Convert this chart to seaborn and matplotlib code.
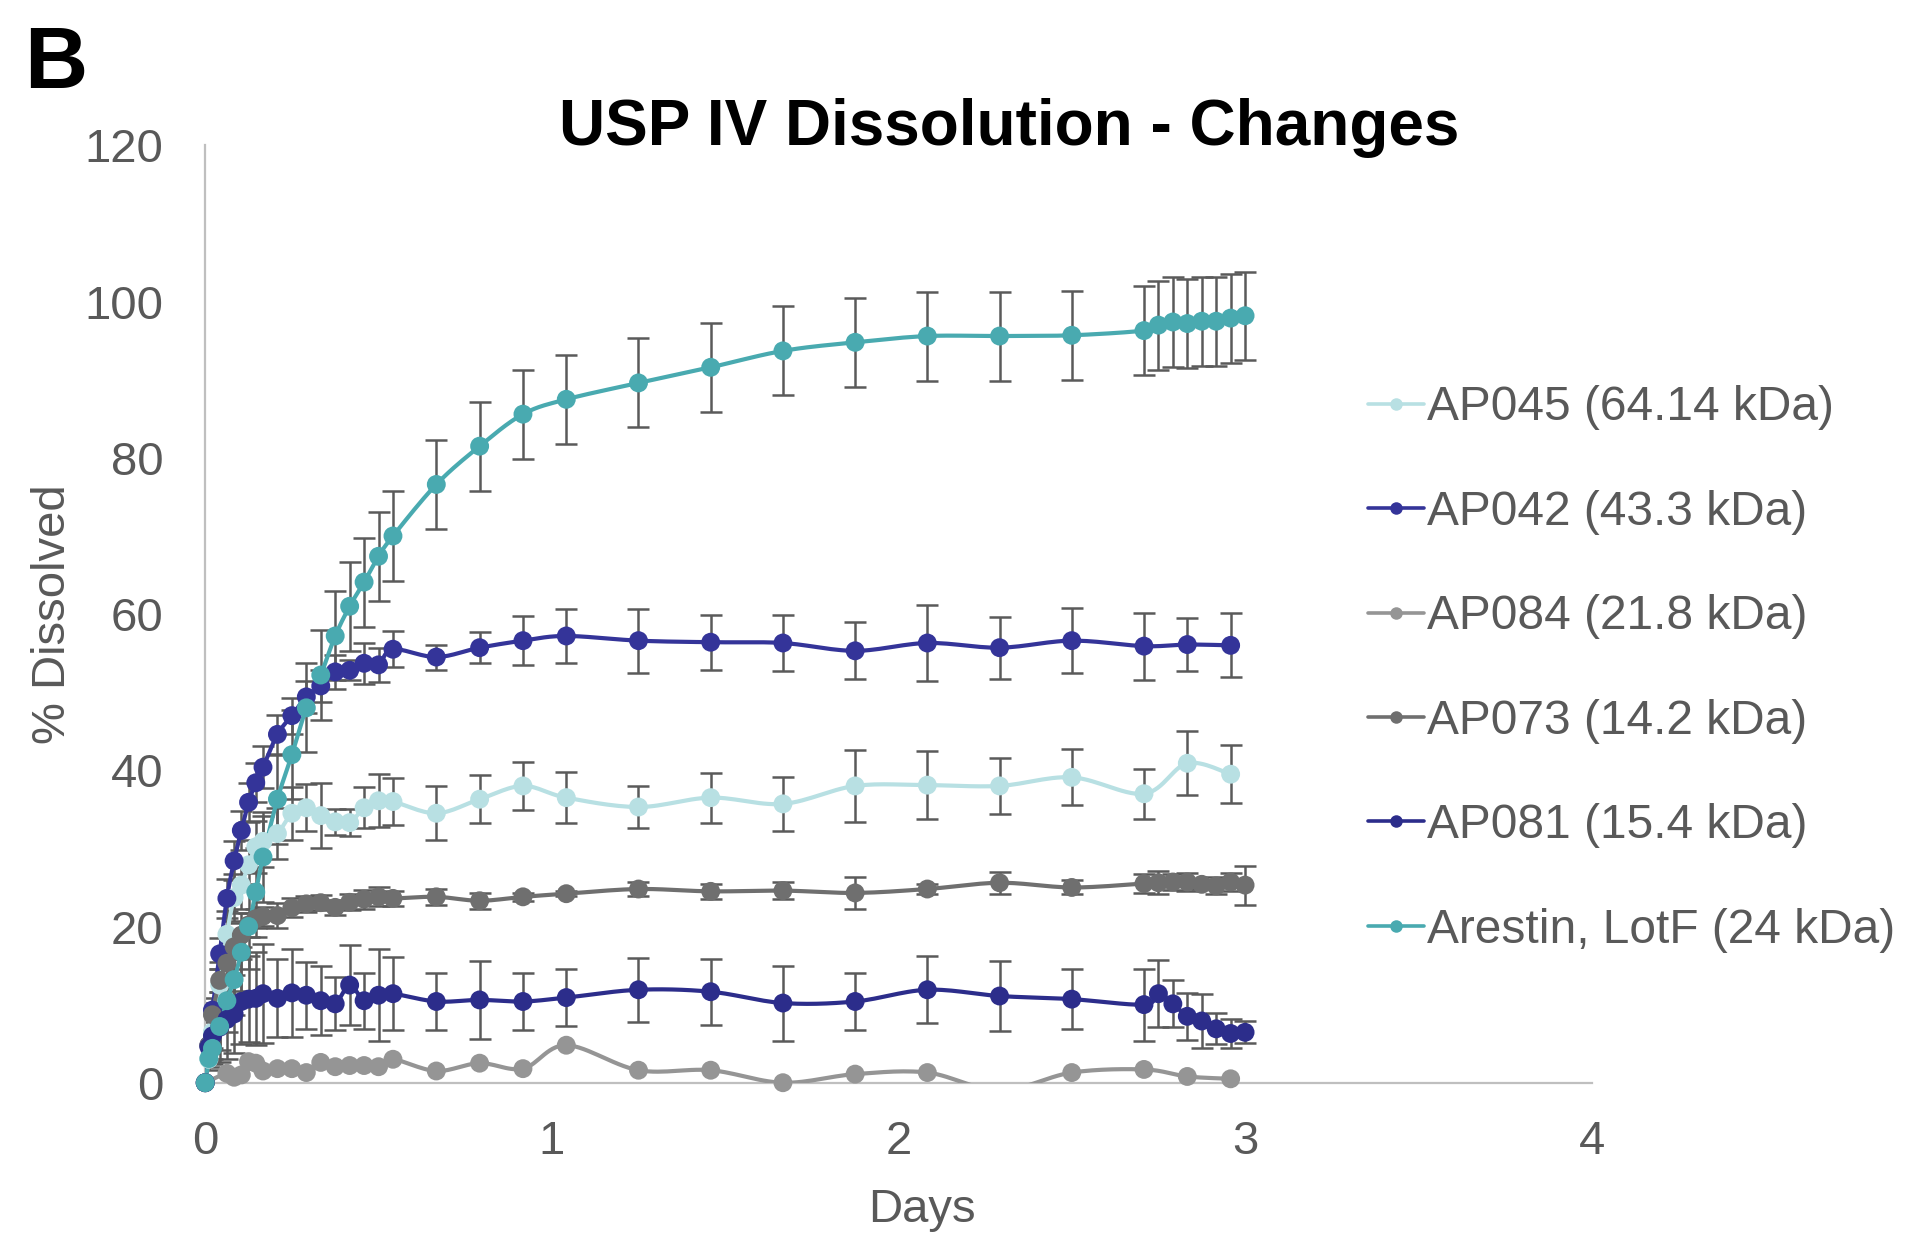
import numpy as np
import pandas as pd
import matplotlib
matplotlib.use("Agg")
import matplotlib.pyplot as plt
from matplotlib.lines import Line2D
import seaborn as sns

# ---------------- data (time in hours, % dissolved, error) ----------------
t_all = [0, 0.25, 0.5, 1, 1.5, 2, 2.5, 3, 3.5, 4, 5, 6, 7, 8, 9, 10, 11, 12, 13,
         16, 19, 22, 25, 30, 35, 40, 45, 50, 55, 60, 65, 66, 67, 68, 69, 70, 71, 72]
t_sparse = [0, 0.25, 0.5, 1, 1.5, 2, 2.5, 3, 3.5, 4, 5, 6, 7, 8, 9, 10, 11, 12, 13,
            16, 19, 22, 25, 30, 35, 40, 45, 50, 55, 60, 65, 68, 71]
t_ap084 = [0, 1.5, 2, 2.5, 3, 3.5, 4, 5, 6, 7, 8, 9, 10, 11, 12, 13,
           16, 19, 22, 25, 30, 35, 40, 45, 50, 55, 60, 65, 68, 71]

ap045 = [0, 3.0, 6.5, 12.5, 19.0, 23.7, 25.3, 27.9, 30.2, 30.9, 31.9, 34.5, 35.2, 34.2,
         33.4, 33.3, 35.2, 36.1, 36.0, 34.5, 36.3, 38.0, 36.5, 35.3, 36.5, 35.7, 38.0,
         38.1, 38.0, 39.1, 37.0, 40.9, 39.5]
ap045_err = [0, 1.0, 2.0, 3.0, 3.0, 3.0, 3.0, 3.2, 3.3, 3.3, 3.3, 3.4, 3.0, 4.2, 1.7,
             1.75, 2.6, 3.4, 3.05, 3.45, 3.1, 3.05, 3.25, 2.65, 3.2, 3.5, 4.6, 4.35,
             3.6, 3.6, 3.2, 4.1, 3.7]

ap042 = [0, 4.8, 9.3, 16.5, 23.6, 28.4, 32.3, 35.9, 38.4, 40.4, 44.6, 47.0, 49.4, 50.8,
         52.6, 52.8, 53.7, 53.5, 55.5, 54.5, 55.7, 56.6, 57.2, 56.6, 56.4, 56.3, 55.3,
         56.3, 55.7, 56.6, 55.9, 56.1, 56.0]
ap042_err = [0, 1.0, 1.5, 2.0, 2.5, 2.5, 2.5, 2.5, 2.5, 2.7, 2.5, 2.3, 2.0, 2.0, 2.2,
             1.3, 2.6, 2.2, 2.3, 1.6, 2.0, 3.1, 3.45, 4.1, 3.5, 3.6, 3.65, 4.9, 3.95,
             4.2, 4.3, 3.35, 4.1]

ap084 = [0, 1.2, 0.7, 1.0, 2.7, 2.5, 1.5, 1.8, 1.8, 1.3, 2.6, 2.05, 2.2, 2.2, 2.05, 3.0,
         1.5, 2.5, 1.8, 4.8, 1.6, 1.6, 0.0, 1.1, 1.3, -1.0, 1.3, 1.7, 0.8, 0.5]

ap073 = [0, 4.8, 8.7, 13.1, 15.3, 17.4, 18.9, 20.2, 21.0, 21.3, 21.4, 22.4, 22.9, 23.05,
         22.45, 23.1, 23.5, 23.8, 23.6, 23.8, 23.3, 23.8, 24.2, 24.8, 24.5, 24.6, 24.3,
         24.8, 25.6, 25.0, 25.5, 25.6, 25.7, 25.7, 25.4, 25.2, 25.7, 25.3]
ap073_err = [0, 1.0, 1.5, 1.5, 1.5, 1.5, 1.5, 1.5, 1.2, 1.2, 1.6, 1.2, 1.0, 1.0, 1.0,
             1.0, 1.2, 1.2, 1.0, 1.0, 1.0, 0.5, 0.3, 0.9, 1.0, 1.1, 2.0, 0.6, 1.4, 0.9,
             1.2, 1.5, 1.0, 1.1, 0.6, 1.1, 1.2, 2.5]

ap081 = [0, 4.6, 6.0, 7.1, 8.1, 8.8, 10.4, 10.7, 10.8, 11.4, 10.8, 11.5, 11.2, 10.5,
         10.1, 12.5, 10.5, 11.2, 11.4, 10.4, 10.6, 10.4, 10.9, 11.9, 11.65, 10.2, 10.4,
         11.9, 11.1, 10.7, 10.0, 11.4, 10.1, 8.5, 7.9, 6.9, 6.3, 6.45]
ap081_err = [0, 2.0, 3.0, 4.5, 5.0, 5.0, 5.5, 5.5, 6.0, 6.3, 5.0, 5.6, 4.3, 4.4, 3.4,
             5.1, 3.6, 5.9, 4.7, 3.7, 5.0, 3.6, 3.6, 4.1, 4.2, 4.8, 3.6, 4.3, 4.5, 3.8,
             4.6, 4.3, 3.0, 3.0, 3.5, 2.0, 1.9, 1.4]

arestin = [0, 3.1, 4.4, 7.2, 10.5, 13.2, 16.7, 20.0, 24.4, 28.9, 36.3, 42.0, 48.0, 52.2,
           57.2, 61.0, 64.1, 67.4, 70.0, 76.6, 81.5, 85.6, 87.5, 89.6, 91.6, 93.7, 94.8,
           95.6, 95.6, 95.7, 96.3, 97.0, 97.4, 97.2, 97.5, 97.5, 97.9, 98.2]
arestin_err = [0, 1.5, 2.0, 3.0, 4.0, 4.5, 5.0, 5.5, 5.7, 5.7, 5.7, 5.7, 5.7, 5.8, 5.7,
               5.7, 5.7, 5.7, 5.7, 5.7, 5.7, 5.7, 5.7, 5.7, 5.7, 5.7, 5.7, 5.7, 5.7,
               5.7, 5.7, 5.7, 5.7, 5.7, 5.7, 5.7, 5.7, 5.65]

labels = ["AP045 (64.14 kDa)", "AP042 (43.3 kDa)", "AP084 (21.8 kDa)",
          "AP073 (14.2 kDa)", "AP081 (15.4 kDa)", "Arestin, LotF (24 kDa)"]
colors = ["#B8E0E3", "#343499", "#959595", "#6F6F6F", "#2C2D8B", "#49AAB0"]

series = [
    (labels[0], t_sparse, ap045, ap045_err),
    (labels[1], t_sparse, ap042, ap042_err),
    (labels[2], t_ap084, ap084, None),
    (labels[3], t_all, ap073, ap073_err),
    (labels[4], t_all, ap081, ap081_err),
    (labels[5], t_all, arestin, arestin_err),
]

rows = []
for name, t, v, e in series:
    for i, (ti, vi) in enumerate(zip(t, v)):
        rows.append({"series": name, "days": ti / 24.0, "value": vi,
                     "err": (e[i] if e is not None else 0.0)})
df = pd.DataFrame(rows)


def smooth(x, y, n=16):
    """Excel-like smoothed line (cubic Bezier through the points)."""
    pts = np.column_stack([x, y]).astype(float)
    out = []
    for i in range(len(pts) - 1):
        p0 = pts[i - 1] if i > 0 else pts[i]
        p1, p2 = pts[i], pts[i + 1]
        p3 = pts[i + 2] if i + 2 < len(pts) else pts[i + 1]
        c1 = p1 + (p2 - p0) / 6.0
        c2 = p2 - (p3 - p1) / 6.0
        tt = np.linspace(0, 1, n)[:, None]
        seg = ((1 - tt) ** 3) * p1 + 3 * ((1 - tt) ** 2) * tt * c1 \
            + 3 * (1 - tt) * tt ** 2 * c2 + tt ** 3 * p2
        out.append(seg if i == 0 else seg[1:])
    return np.vstack(out)


# ---------------- style ----------------
sns.set_style("white")
plt.rcParams["font.family"] = ["Liberation Sans", "DejaVu Sans"]
TXT = "#595959"
AXC = "#BFBFBF"

fig = plt.figure(figsize=(19.27, 12.34), dpi=100)
ax = fig.add_axes([0.1065, 0.1226, 0.7195, 0.7595])

for k, (name, col) in enumerate(zip(labels, colors)):
    d = df[df["series"] == name]
    if d["err"].abs().sum() > 0:
        ax.errorbar(d["days"], d["value"], yerr=d["err"], fmt="none",
                    ecolor="#5A5A5A", elinewidth=1.8, capsize=8, capthick=1.8,
                    zorder=2 + k * 0.01)
    curve = smooth(d["days"].values, d["value"].values)
    ax.plot(curve[:, 0], curve[:, 1], color=col, lw=3.0, zorder=3 + k * 0.01,
            solid_capstyle="round")
    dpos = d[d["value"] >= 0]
    sns.scatterplot(data=dpos, x="days", y="value", color=col, s=185,
                    edgecolor="none", linewidth=0, ax=ax, zorder=4 + k * 0.01,
                    legend=False)
for coll in ax.collections:
    if coll.__class__.__name__ == "PathCollection":
        coll.set_clip_on(False)

ax.set_xlim(0, 4)
ax.set_ylim(0, 120)
ax.set_xticks([0, 1, 2, 3, 4])
ax.set_yticks([0, 20, 40, 60, 80, 100, 120])
ax.set_xlabel("")
ax.set_ylabel("")
ax.tick_params(axis="both", length=0, labelsize=34, labelcolor=TXT)
ax.tick_params(axis="x", pad=27)
ax.tick_params(axis="y", pad=30)
for s in ["top", "right"]:
    ax.spines[s].set_visible(False)
for s in ["left", "bottom"]:
    ax.spines[s].set_color(AXC)
    ax.spines[s].set_linewidth(1.6)
ax.grid(False)

# legend
handles = [Line2D([0], [0], color=c, lw=2.6, marker="o", markersize=9,
                  markeredgewidth=0) for c in colors]
leg = fig.legend(handles, labels, loc="center left",
                 bbox_to_anchor=(1368 / 1927, 1 - 669 / 1234), frameon=False,
                 fontsize=34.5, labelcolor=TXT, handlelength=1.17, handletextpad=0.07,
                 labelspacing=1.24, borderpad=0, borderaxespad=0)

# texts
fig.text(1009 / 1927, 1 - 145 / 1234, "USP IV Dissolution - Changes", ha="center",
         va="baseline", fontsize=46, fontweight="bold", color="black")
fig.text(24 / 1927, 1 - 88 / 1234, "B", ha="left", va="baseline", fontsize=63,
         fontweight="bold", color="black")
fig.text(53 / 1927, 1 - 614 / 1234, "% Dissolved", rotation=90, ha="center",
         va="center", fontsize=34, color=TXT)
fig.text(922 / 1927, 1 - 1222 / 1234, "Days", ha="center", va="baseline",
         fontsize=34, color=TXT)

fig.savefig("out.png", dpi=100)
